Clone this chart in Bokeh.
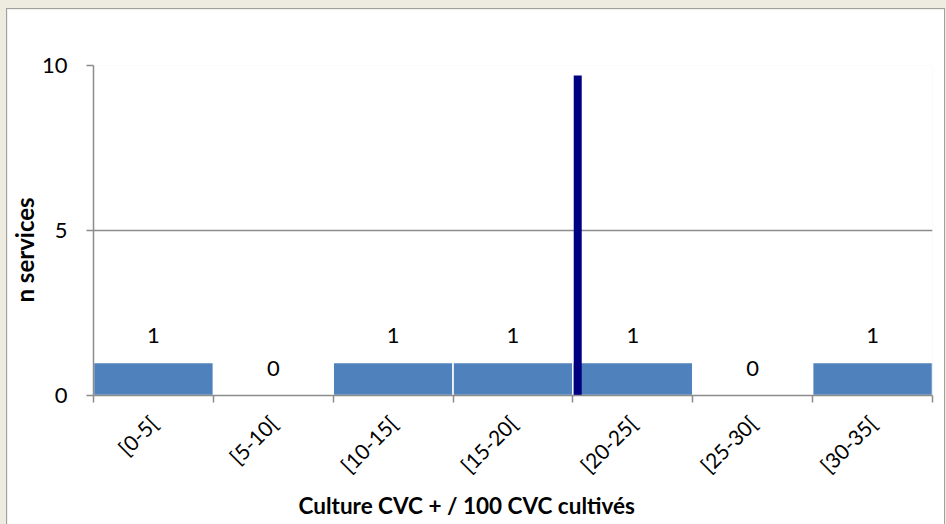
import math
from bokeh.plotting import figure
from bokeh.models import (ColumnDataSource, FixedTicker, LabelSet, Label, Range1d, Title)
from bokeh.core.properties import value
from bokeh.embed import file_html
from bokeh.resources import INLINE

# ---- data ----
bins = ["[0-5[", "[5-10[", "[10-15[", "[15-20[", "[20-25[", "[25-30[", "[30-35["]
bin_left = [0, 5, 10, 15, 20, 25, 30]
bin_right = [5, 10, 15, 20, 25, 30, 35]
counts = [1, 0, 1, 1, 1, 0, 1]
median_value = 20.2
median_top = 9.7
median_label = "médiane"
y_ticks = [0, 5, 10]
x_title = "Culture CVC + / 100 CVC cultivés"
y_title = "n services"

FONT = "Lato"
BAR = "#4F81BD"
GRID = "#8C8C8C"

centers = [(l + r) / 2 for l, r in zip(bin_left, bin_right)]
src = ColumnDataSource(dict(left=bin_left, right=bin_right, top=counts,
                            center=centers, label=[str(c) for c in counts]))

p = figure(width=937, height=515, output_backend="svg", toolbar_location=None,
           x_range=Range1d(0, 35), y_range=Range1d(0, 10),
           min_border_left=85, min_border_right=12, min_border_top=56,
           min_border_bottom=129)
p.border_fill_color = "white"
p.background_fill_color = "white"
p.outline_line_color = None

p.quad(left="left", right="right", bottom=0, top="top", source=src,
       fill_color=BAR, line_color="white", line_width=1.5)

p.add_layout(LabelSet(x="center", y="top", text="label", source=src,
                      y_offset=20, text_align="center", text_baseline="alphabetic",
                      text_font=value(FONT), text_font_size="22px",
                      text_color="black"))

p.segment(x0=[median_value], y0=[0], x1=[median_value], y1=[median_top],
          line_color="#000080", line_width=8)
p.add_layout(Label(x=median_value, y=10, y_offset=16, text=median_label,
                   text_align="center", text_baseline="alphabetic",
                   text_font=FONT, text_font_style="bold", text_font_size="23px",
                   text_color="#14148C"))

# x axis
xt = FixedTicker(ticks=centers, minor_ticks=bin_left + [bin_right[-1]])
p.xaxis.ticker = xt
p.xaxis.major_label_overrides = {c: b for c, b in zip(centers, bins)}
p.xaxis.major_label_orientation = math.pi / 4
p.xaxis.major_tick_line_color = None
p.xaxis.minor_tick_out = 7
p.xaxis.minor_tick_in = 0
p.xaxis.minor_tick_line_color = GRID
p.xaxis.minor_tick_line_width = 1.5
p.xaxis.axis_line_color = GRID
p.xaxis.axis_line_width = 1.5
p.xaxis.major_label_text_font = FONT
p.xaxis.major_label_text_font_size = "21px"
p.xaxis.major_label_text_color = "black"
p.xaxis.major_label_standoff = 17

# y axis
p.yaxis.ticker = FixedTicker(ticks=y_ticks, minor_ticks=[])
p.yaxis.major_tick_out = 7
p.yaxis.major_tick_in = 0
p.yaxis.major_tick_line_color = GRID
p.yaxis.major_tick_line_width = 1.5
p.yaxis.axis_line_color = GRID
p.yaxis.axis_line_width = 1.5
p.yaxis.major_label_text_font = FONT
p.yaxis.major_label_text_font_size = "22px"
p.yaxis.major_label_text_color = "black"
p.yaxis.major_label_standoff = 19

# axis titles (offset like the original)
p.add_layout(Title(text=x_title, align="left", offset=205, standoff=0,
                   text_font=FONT, text_font_style="bold", text_font_size="22.5px",
                   text_color="black"), "below")
p.add_layout(Title(text=y_title, align="left", offset=93, standoff=0,
                   text_font=FONT, text_font_style="bold", text_font_size="24px",
                   text_color="black"), "left")

p.xgrid.grid_line_color = None
p.ygrid.ticker = FixedTicker(ticks=y_ticks)
p.ygrid.grid_line_color = GRID
p.ygrid.grid_line_width = 1.5

html = file_html(p, INLINE)
html = html.replace("<head>",
                    "<head><style>html,body{background:#EEECE1;}"
                    "body{padding:9px 0 0 7px !important;}"
                    "body > div[id]{display:block !important;width:937px;height:515px;"
                    "outline:1px solid #A0A0A0;outline-offset:0px;}"
                    "</style>", 1)
open("out.html", "w").write(html)
